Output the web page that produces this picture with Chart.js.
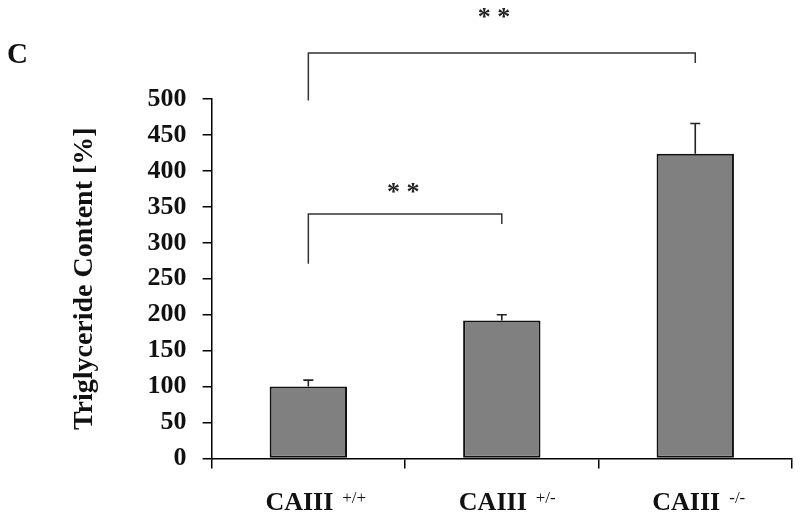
<!DOCTYPE html>
<html>
<head>
<meta charset="utf-8">
<script src="https://cdn.jsdelivr.net/npm/chart.js@4.4.1/dist/chart.umd.min.js"></script>
<style>
  html, body { margin: 0; padding: 0; background: #ffffff; }
  #wrap { width: 800px; height: 519px; position: relative; }
</style>
</head>
<body>
<div id="wrap"><canvas id="c" width="800" height="519"></canvas></div>
<script>
// ---- data ----
const categories = ['CAIII', 'CAIII', 'CAIII'];
const genotypes = ['+/+', '+/-', '-/-'];
const values = [100, 192, 424];
const errors = [9, 8, 42];
const yMin = 0, yMax = 500, yStep = 50;
const axisTitle = 'Triglyceride Content [%]';
const panelLetter = 'C';
// significance brackets (category index / value units)
const bracketFrom = [0, 0];
const bracketTo = [1, 2];
const bracketTop = [340, 564];
const bracketLeftFoot = [271, 498];
const bracketRightFoot = [326, 550];
const starLabel = ['* *', '* *'];
const starX = [0.49, 0.96];
const starY = [359, 603];

const SERIF = "'Liberation Serif', 'Times New Roman', Times, serif";

const extras = {
  id: 'extras',
  afterDatasetsDraw(chart) {
    const ctx = chart.ctx;
    const ys = chart.scales.y;
    const meta = chart.getDatasetMeta(0);
    ctx.save();
    ctx.strokeStyle = '#222';
    ctx.lineWidth = 1.6;
    meta.data.forEach((bar, i) => {
      const yTop = ys.getPixelForValue(values[i]);
      const yErr = ys.getPixelForValue(values[i] + errors[i]);
      ctx.beginPath();
      ctx.moveTo(bar.x, yTop);
      ctx.lineTo(bar.x, yErr);
      ctx.moveTo(bar.x - 5, yErr);
      ctx.lineTo(bar.x + 5, yErr);
      ctx.stroke();
    });
    ctx.restore();
  },
  afterDraw(chart) {
    const ctx = chart.ctx;
    const xs = chart.scales.x;
    const ys = chart.scales.y;
    ctx.save();
    // brackets
    ctx.strokeStyle = '#333';
    ctx.lineWidth = 1.5;
    for (let i = 0; i < bracketFrom.length; i++) {
      const x1 = xs.getPixelForValue(bracketFrom[i]);
      const x2 = xs.getPixelForValue(bracketTo[i]);
      ctx.beginPath();
      ctx.moveTo(x1, ys.getPixelForValue(bracketLeftFoot[i]));
      ctx.lineTo(x1, ys.getPixelForValue(bracketTop[i]));
      ctx.lineTo(x2, ys.getPixelForValue(bracketTop[i]));
      ctx.lineTo(x2, ys.getPixelForValue(bracketRightFoot[i]));
      ctx.stroke();
      ctx.fillStyle = '#222';
      ctx.font = 'bold 26px ' + SERIF;
      ctx.textAlign = 'center';
      ctx.textBaseline = 'alphabetic';
      ctx.fillText(starLabel[i], xs.getPixelForValue(starX[i]), ys.getPixelForValue(starY[i]));
    }
    // superscripts after tick labels
    const labelOffset = chart.options.scales.x.ticks.labelOffset;
    for (let i = 0; i < categories.length; i++) {
      ctx.font = 'bold 26px ' + SERIF;
      const w = ctx.measureText(categories[i]).width;
      const cx = xs.getPixelForValue(i) + labelOffset;
      ctx.font = '17px ' + SERIF;
      ctx.fillStyle = '#111';
      ctx.textAlign = 'left';
      ctx.textBaseline = 'alphabetic';
      ctx.fillText(genotypes[i], cx + w / 2 + 9, xs.top + 44);
    }
    // panel letter
    ctx.font = 'bold 29px ' + SERIF;
    ctx.fillStyle = '#111';
    ctx.textAlign = 'left';
    ctx.fillText(panelLetter, 7, 63);
    ctx.restore();
  }
};

new Chart(document.getElementById('c'), {
  type: 'bar',
  data: {
    labels: categories,
    datasets: [{
      data: values,
      backgroundColor: '#808080',
      borderColor: '#111',
      borderWidth: 2,
      borderSkipped: false,
      categoryPercentage: 1.0,
      barPercentage: 0.4
    }]
  },
  options: {
    responsive: false,
    animation: false,
    devicePixelRatio: 1,
    layout: { padding: { left: 65, right: 8, top: 99, bottom: 0 } },
    plugins: { legend: { display: false }, tooltip: { enabled: false } },
    scales: {
      x: {
        offset: true,
        afterFit: (scale) => { scale.height = 60.5; },
        grid: { display: true, drawOnChartArea: false, drawTicks: true, tickLength: 10, color: '#000', lineWidth: 1.5, offset: true },
        border: { display: true, color: '#000', width: 1.5 },
        ticks: {
          color: '#111',
          font: { family: SERIF, size: 26, weight: 'bold' },
          padding: 19,
          labelOffset: -9,
          maxRotation: 0,
          autoSkip: false
        }
      },
      y: {
        min: yMin,
        max: yMax,
        grid: { display: true, drawOnChartArea: false, drawTicks: true, tickLength: 9, color: '#000', lineWidth: 1.5 },
        border: { display: true, color: '#000', width: 1.5 },
        ticks: {
          stepSize: yStep,
          color: '#111',
          font: { family: SERIF, size: 26, weight: 'bold' },
          padding: 16
        },
        title: {
          display: true,
          text: axisTitle,
          color: '#111',
          font: { family: SERIF, size: 28, weight: 'bold' },
          padding: { top: 3, bottom: 30 }
        }
      }
    }
  },
  plugins: [extras]
});
</script>
</body>
</html>
